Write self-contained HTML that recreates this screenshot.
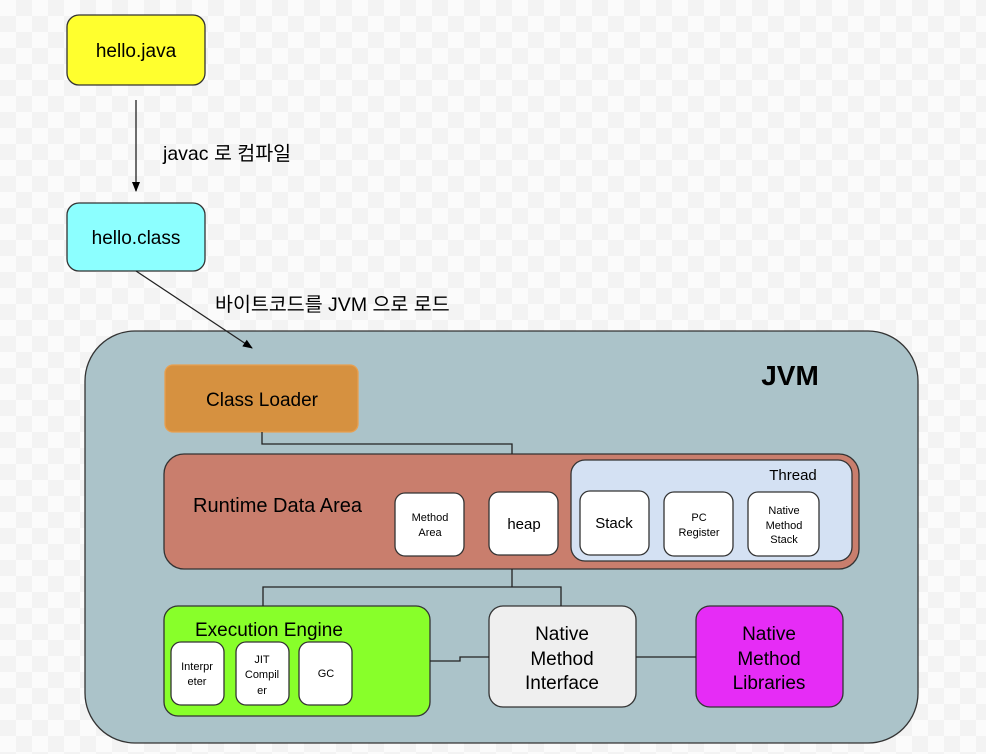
<!DOCTYPE html>
<html><head><meta charset="utf-8"><style>
body{margin:0;width:986px;height:754px;overflow:hidden;background-color:#fbfbfb;
background-image:linear-gradient(45deg,#f3f3f3 25%,transparent 25%,transparent 75%,#f3f3f3 75%),linear-gradient(45deg,#f3f3f3 25%,transparent 25%,transparent 75%,#f3f3f3 75%);
background-size:32px 32px;background-position:0 0,16px 16px;}
svg{position:absolute;left:0;top:0}
text{font-family:"Liberation Sans","Noto Sans CJK KR",sans-serif;fill:#000}
</style></head><body>
<svg width="986" height="754" viewBox="0 0 986 754">
<defs><marker id="a" markerWidth="10" markerHeight="10" refX="9" refY="5" orient="auto" markerUnits="userSpaceOnUse"><path d="M0,1 L10,5 L0,9 z" fill="#000"/></marker></defs>
<g stroke="#333" stroke-width="1.3">
<rect x="67" y="15" width="138" height="70" rx="12" fill="#ffff2e"/>
<rect x="67" y="203" width="138" height="68" rx="12" fill="#8cffff"/>
<rect x="85" y="331" width="833" height="412" rx="50" fill="#abc3c9"/>
<rect x="165" y="365" width="193" height="67" rx="8" fill="#d69140" stroke="#e8a050"/>
<rect x="164" y="454" width="695" height="115" rx="20" fill="#c97e6d"/>
<rect x="571" y="460" width="281" height="101" rx="14" fill="#d4e1f3"/>
<g fill="#fff">
<rect x="395" y="493" width="69" height="63" rx="10"/>
<rect x="489" y="492" width="69" height="63" rx="10"/>
<rect x="580" y="491" width="69" height="64" rx="10"/>
<rect x="664" y="492" width="69" height="64" rx="10"/>
<rect x="748" y="492" width="71" height="64" rx="10"/>
</g>
<rect x="164" y="606" width="266" height="110" rx="14" fill="#88ff2a"/>
<g fill="#fff">
<rect x="171" y="642" width="53" height="63" rx="10"/>
<rect x="236" y="642" width="53" height="63" rx="10"/>
<rect x="299" y="642" width="53" height="63" rx="10"/>
</g>
<rect x="489" y="606" width="147" height="101" rx="14" fill="#efefef"/>
<rect x="696" y="606" width="147" height="101" rx="14" fill="#e62cf6"/>
</g>
<g stroke="#222" stroke-width="1.3" fill="none">
<path d="M136,100 V191" marker-end="url(#a)"/>
<path d="M136,271 L252,348" marker-end="url(#a)"/>
<path d="M262,432 V444 H512 V454"/>
<path d="M512,569 V587 M263,606 V587 H561 V606"/>
<path d="M430,661 H460 V657 H489"/>
<path d="M636,657 H696"/>
</g>
<text x="163" y="160" font-size="19.5">javac 로 컴파일</text>
<text x="215" y="311" font-size="19.5">바이트코드를 JVM 으로 로드</text>
<text x="136" y="57" font-size="19" text-anchor="middle">hello.java</text>
<text x="136" y="244" font-size="19" text-anchor="middle">hello.class</text>
<text x="790" y="385" font-size="28" font-weight="bold" text-anchor="middle">JVM</text>
<text x="262" y="406" font-size="19" text-anchor="middle">Class Loader</text>
<text x="193" y="512" font-size="20">Runtime Data Area</text>
<text x="793" y="480" font-size="15" text-anchor="middle">Thread</text>
<g font-size="11" text-anchor="middle">
<text x="430" y="521" font-size="11">Method</text><text x="430" y="536" font-size="11">Area</text>
<text x="699" y="521">PC</text><text x="699" y="536">Register</text>
<text x="784" y="514">Native</text><text x="784" y="529">Method</text><text x="784" y="543">Stack</text>
<text x="197" y="670">Interpr</text><text x="197" y="685">eter</text>
<text x="262" y="663">JIT</text><text x="262" y="678">Compil</text><text x="262" y="694">er</text>
<text x="326" y="677">GC</text>
</g>
<text x="524" y="529" font-size="15" text-anchor="middle">heap</text>
<text x="614" y="528" font-size="15" text-anchor="middle">Stack</text>
<text x="195" y="636" font-size="19">Execution Engine</text>
<g font-size="19" text-anchor="middle">
<text x="562" y="640">Native</text><text x="562" y="665">Method</text><text x="562" y="689">Interface</text>
<text x="769" y="640">Native</text><text x="769" y="665">Method</text><text x="769" y="689">Libraries</text>
</g>
</svg>
</body></html>
